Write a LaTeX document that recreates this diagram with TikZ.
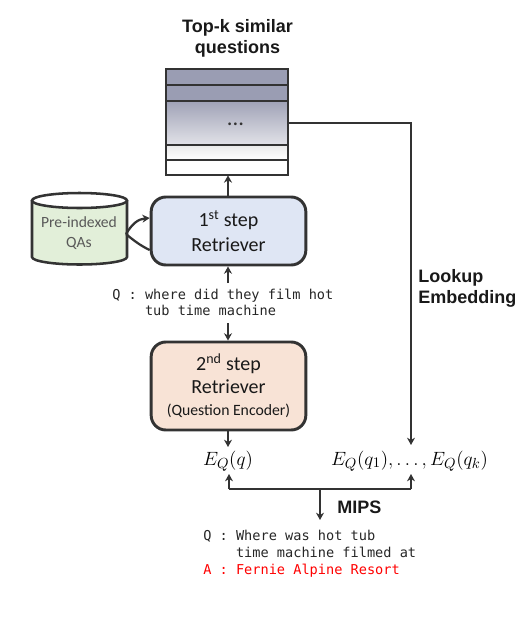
\documentclass[tikz,border=0pt]{standalone}
\usepackage{fontspec}
\setmainfont{Carlito}
\newfontfamily\headfont{Liberation Sans}
\setmonofont{DejaVu Sans Mono}
\usetikzlibrary{arrows.meta}
\definecolor{edgec}{HTML}{333333}
\definecolor{rowdark}{HTML}{9A9DB3}
\definecolor{rowmid}{HTML}{9FA2B6}
\definecolor{rowlow}{HTML}{E2E2E8}
\definecolor{bluefill}{HTML}{DFE6F4}
\definecolor{peachfill}{HTML}{F8E3D6}
\definecolor{greenfill}{HTML}{E2EFD9}
\tikzset{
  conn/.style={draw=edgec,line width=1.7pt,-{Stealth[length=5.5pt,width=6pt]}},
  plain/.style={draw=edgec,line width=1.7pt},
  retr/.style={draw=edgec,line width=2.2pt,rounded corners=11pt,minimum width=116pt,align=center,font=\fontsize{15}{18.5}\selectfont,text=black!90},
  rowbox/.style={draw=edgec,line width=1.6pt,minimum width=91.5pt,inner sep=0pt,outer sep=0pt},
  head/.style={font=\headfont\bfseries\fontsize{13.5}{15.75}\selectfont,align=center,text=black!90},
  mono/.style={font=\ttfamily\fontsize{10.2}{12.6}\selectfont,align=left,text=black!85,inner sep=0pt},
  eqn/.style={font=\fontsize{15}{18}\selectfont,inner sep=0pt}
}
\begin{document}
\begin{tikzpicture}[x=0.75pt,y=-0.75pt]
\useasboundingbox (0,0) rectangle (532,644);
\node[head] (title) at (237.5,38.5) {Top-k similar\\questions};
\node[rowbox,minimum height=11.9pt,fill=rowdark] (row1) at (227,77) {};
\node[rowbox,minimum height=12pt,fill=rowdark] (row2) at (227,92.7) {};
\node[rowbox,minimum height=33.2pt,top color=rowmid,bottom color=rowlow] (row3) at (227,122.8) {};
\node[rowbox,minimum height=11.3pt,top color=black!8,bottom color=white] (row4) at (227,152.5) {};
\node[rowbox,minimum height=11.3pt,fill=white] (row5) at (227,167.8) {};
\node[inner sep=0pt,font=\fontsize{17}{19}\selectfont,text=black!80] (dots) at (235.5,124) {...};
% database cylinder
\draw[plain,line width=1.9pt,fill=greenfill] (32,200.5) -- (32,257) arc[x radius=47.5,y radius=7.5,start angle=180,end angle=0] -- (127,200.5);
\draw[plain,line width=1.9pt,fill=white] (79.5,200.5) ellipse[x radius=47.5,y radius=7.5];
\node[inner sep=0pt,align=center,text=black!65,font=\fontsize{11.7}{15.5}\selectfont] (cyl) at (79,233) {Pre-indexed\\QAs};
\node[retr,minimum height=51pt,fill=bluefill] (r1) at (228.5,231) {1\textsuperscript{st} step\\Retriever};
\node[mono,anchor=north west] (q1) at (112,288.5) {Q : where did they film hot\\\phantom{Q : }tub time machine};
\node[retr,minimum height=66pt,fill=peachfill,font=\fontsize{15}{17.5}\selectfont] (r2) at (228.5,386) {2\textsuperscript{nd} step\\Retriever\\[-1pt]{\fontsize{11.8}{13}\selectfont(Question Encoder)}};
\node[eqn] (eq1) at (228,461) {$E_Q(q)$};
\node[eqn] (eq2) at (409.5,461) {$E_Q(q_1),\ldots,E_Q(q_k)$};
\node[head,align=left,anchor=west,inner sep=0pt] (look) at (418,288) {Lookup\\Embedding};
\node[head,anchor=west,inner sep=0pt] (mips) at (337,507) {MIPS};
\node[mono,anchor=north west] (ans) at (203,530) {Q : Where was hot tub\\\phantom{Q : }time machine filmed at\\\textcolor{red}{A : Fernie Alpine Resort}};
\coordinate (lookupend) at (411,445);
\coordinate (splitc) at (320,489);
\coordinate (splitl) at (229,489);
\coordinate (splitr) at (411,489);
\coordinate (eq1up) at (229,474);
\coordinate (eq2up) at (411,474);
\coordinate (mipsend) at (320,520);
\coordinate (eq1top) at (228,447);
\coordinate (cylout) at (126,234);
\coordinate (q1top) at (228,283);
\coordinate (q1bot) at (228,323);
\draw[conn] (r1.north -| q1top) -- (q1top |- row5.south);
\draw[conn] (q1top) -- (q1top |- r1.south);
\draw[conn] (q1bot) -- (q1bot |- r2.north);
\draw[conn] (eq1top |- r2.south) -- (eq1top);
\draw[conn] (row3.east) -| (lookupend);
\draw[plain] (splitl) -- (splitr);
\draw[conn] (splitl) -- (eq1up);
\draw[conn] (splitr) -- (eq2up);
\draw[conn] (splitc) -- (mipsend);
\draw[conn] (cylout) .. controls (132,224) and (138,219) .. (r1.west |- 0,218);
\draw[plain] (cylout) .. controls (133,240) and (141,246) .. (r1.west |- 0,250);
\end{tikzpicture}
\end{document}
